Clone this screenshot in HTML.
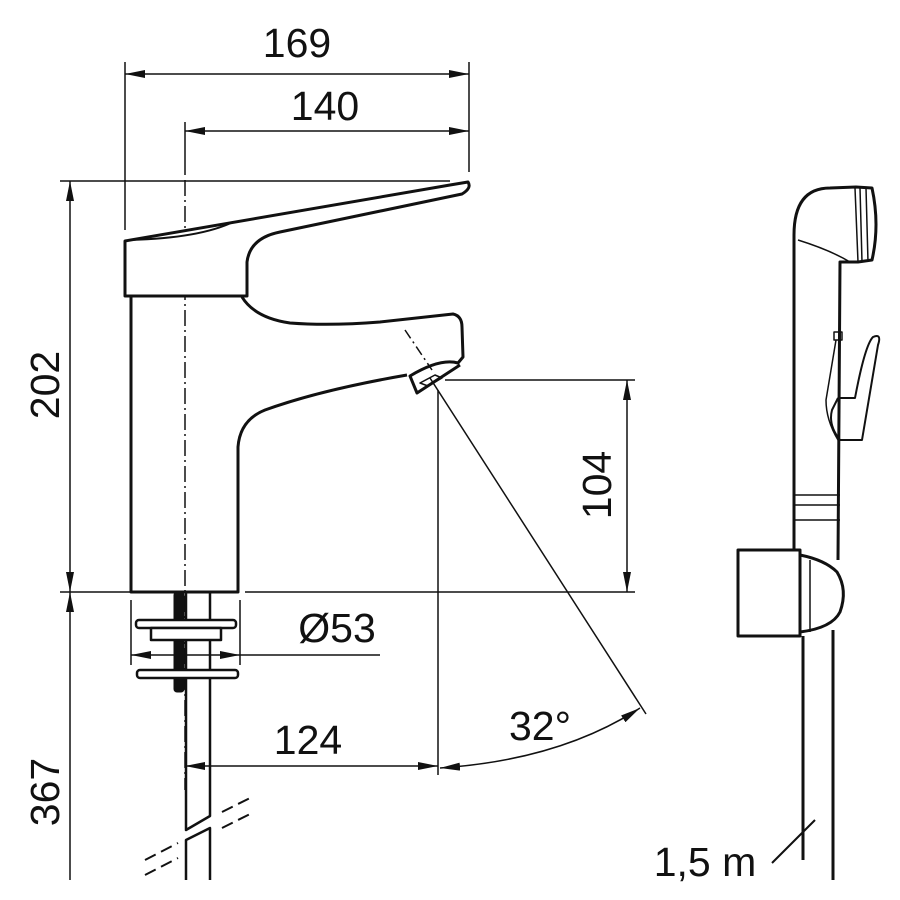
<!DOCTYPE html>
<html><head><meta charset="utf-8"><style>html,body{margin:0;padding:0;background:#fff}svg{display:block}</style></head>
<body>
<svg width="900" height="900" viewBox="0 0 900 900" xmlns="http://www.w3.org/2000/svg" font-family="Liberation Sans, sans-serif">
<defs>
<marker id="a" viewBox="0 0 20 8" refX="20" refY="4" markerWidth="20" markerHeight="8" markerUnits="userSpaceOnUse" orient="auto-start-reverse"><path d="M0,0 L20,4 L0,8 Z" fill="#111"/></marker>
</defs>
<g stroke="#111" stroke-width="1.5" fill="none">
<line x1="125" y1="62" x2="125" y2="230"/>
<line x1="469" y1="62" x2="469" y2="172"/>
<line x1="185" y1="122" x2="185" y2="175"/>
<line x1="60" y1="181" x2="450" y2="181"/>
<line x1="60" y1="592" x2="130" y2="592"/>
<line x1="245" y1="592" x2="635" y2="592"/>
<line x1="445" y1="380" x2="635" y2="380"/>
<line x1="438" y1="390" x2="438" y2="775"/>
<line x1="131" y1="600" x2="131" y2="665"/>
<line x1="240" y1="600" x2="240" y2="665"/>
<line x1="125" y1="74" x2="469" y2="74" marker-start="url(#a)" marker-end="url(#a)"/>
<line x1="185" y1="131" x2="469" y2="131" marker-start="url(#a)" marker-end="url(#a)"/>
<line x1="70" y1="181" x2="70" y2="592" marker-start="url(#a)" marker-end="url(#a)"/>
<line x1="70" y1="592" x2="70" y2="880" marker-start="url(#a)"/>
<line x1="627" y1="380" x2="627" y2="592" marker-start="url(#a)" marker-end="url(#a)"/>
<line x1="131" y1="655" x2="240" y2="655" marker-start="url(#a)" marker-end="url(#a)"/>
<line x1="240" y1="655" x2="380" y2="655"/>
<line x1="185" y1="766" x2="438" y2="766" marker-start="url(#a)" marker-end="url(#a)"/>
<line x1="430" y1="378" x2="646" y2="714"/>
<path d="M440,768 Q560,760 640,708" marker-start="url(#a)" marker-end="url(#a)"/>
<line x1="185" y1="180" x2="185" y2="790" stroke-dasharray="16,4,2,4"/>
<line x1="405" y1="330" x2="432" y2="370" stroke-dasharray="10,4,2,4"/>
</g>
<g stroke="#111" stroke-width="3" fill="none" stroke-linejoin="round">
<path d="M125,241 L125,296 L247,296 L247,262 Q250,238 280,232 L462,194 Q472,188 468,182 L450,185 L125,241 Z" fill="#fff"/>
<path d="M130,240 Q200,238 233,222" stroke-width="2"/>
<path d="M131,296 L131,592 L238,592 L238,447 Q240,420 265,410 Q320,390 407,375" fill="none"/>
<path d="M242,297 Q255,318 290,323 Q330,326 380,322 L453,314 Q462,316 462,327 L463,357 L458,363 Q440,358 410,376 L417,393 L460,365"/>
<path d="M420,383 L435,375 L442,378 L428,386 Z" stroke-width="1.5"/>
<rect x="174" y="592" width="10" height="100" rx="3" fill="#111" stroke-width="1"/>
<path d="M186,592 L186,830 L210,816 L210,592" stroke-width="2.5"/>
<path d="M186,880 L186,840 L210,828 L210,880" stroke-width="2.5"/>
<rect x="136" y="620" width="100" height="8" rx="3" fill="#fff" stroke-width="2.5"/>
<rect x="151" y="628" width="70" height="12" fill="#fff" stroke-width="2.5"/>
<rect x="137" y="670" width="101" height="8" rx="3" fill="#fff" stroke-width="2.5"/>
</g>
<g stroke="#111" stroke-width="2" stroke-dasharray="12,6">
<line x1="145" y1="860" x2="178" y2="843"/><line x1="145" y1="875" x2="178" y2="858"/>
<line x1="222" y1="812" x2="252" y2="797"/><line x1="222" y1="828" x2="252" y2="813"/>
</g>
<g stroke="#111" stroke-width="3" fill="none" stroke-linejoin="round">
<path d="M794,555 L794,235 Q794,188 830,188 L856,187 L872,188 Q880,225 872,260 L858,262 L840,262 L838,560"/>
<path d="M798,240 Q830,250 850,262" stroke-width="1.5"/>
<path d="M855,188 L858,262 M860,188 L862,262 M866,188 L868,262" stroke-width="1.5"/>
<rect x="834" y="332" width="8" height="8" stroke-width="1.5"/>
<path d="M838,398 L855,398 Q865,345 873,337 Q882,333 878,345 L862,440 L840,440 Q828,425 832,410 L838,398" stroke-width="2"/>
<path d="M836,340 L826,400 Q826,420 838,440" stroke-width="1.5"/>
<path d="M793,495 L840,495 M793,505 L840,505 M793,520 L840,520" stroke-width="1.5"/>
<rect x="738" y="550" width="62" height="86" fill="#fff"/>
<path d="M800,555 Q825,560 837,572 Q848,590 840,612 Q832,628 800,632" />
<line x1="810" y1="560" x2="810" y2="632" stroke-width="1.5"/>
<line x1="803" y1="636" x2="803" y2="860"/>
<line x1="833" y1="630" x2="833" y2="880"/>
<line x1="772" y1="863" x2="815" y2="820" stroke-width="2"/>
</g>
<g fill="#111" font-size="41">
<text x="297" y="57" text-anchor="middle">169</text>
<text x="325" y="120" text-anchor="middle">140</text>
<text x="597" y="485" transform="rotate(-90 597 485)" text-anchor="middle" dy="14">104</text>
<text x="45" y="385" transform="rotate(-90 45 385)" text-anchor="middle" dy="14">202</text>
<text x="45" y="792" transform="rotate(-90 45 792)" text-anchor="middle" dy="14">367</text>
<text x="337" y="642" text-anchor="middle">Ø53</text>
<text x="308" y="754" text-anchor="middle">124</text>
<text x="540" y="740" text-anchor="middle">32°</text>
<text x="705" y="876" text-anchor="middle">1,5 m</text>
</g>
</svg>
</body></html>
